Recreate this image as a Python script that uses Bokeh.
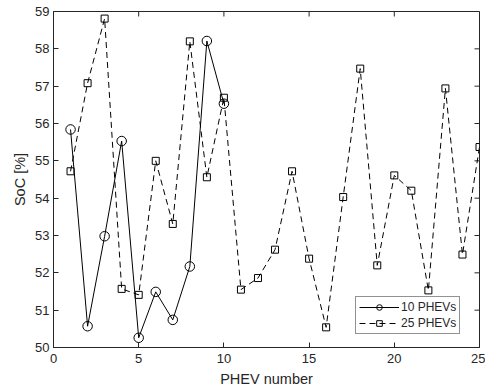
import math
from bokeh.plotting import figure
from bokeh.models import FixedTicker, Range1d, Legend, LegendItem
from bokeh.embed import file_html
from bokeh.resources import INLINE

x10 = list(range(1, 11))
soc10 = [55.84, 50.57, 52.98, 55.53, 50.26, 51.49, 50.74, 52.17, 58.21, 56.53]
x25 = list(range(1, 26))
soc25 = [54.72, 57.08, 58.81, 51.57, 51.41, 55.0, 53.31, 58.2, 54.56, 56.69,
         51.55, 51.86, 52.62, 54.72, 52.38, 50.54, 54.03, 57.47, 52.2, 54.61,
         54.2, 51.53, 56.94, 52.49, 55.37]
xticks = [0, 5, 10, 15, 20, 25]
yticks = [50, 51, 52, 53, 54, 55, 56, 57, 58, 59]

TXT = "#262626"
FONT = "Liberation Sans"

p = figure(width=485, height=390, output_backend="svg", toolbar_location=None,
           x_range=Range1d(0, 25), y_range=Range1d(50, 59),
           min_border_left=53, min_border_right=6, min_border_top=11, min_border_bottom=43)
p.grid.visible = False
p.outline_line_color = TXT
p.outline_line_width = 1
p.background_fill_color = "white"
p.border_fill_color = "white"

for ax in [p.xaxis[0], p.yaxis[0]]:
    ax.major_tick_in = 5
    ax.major_tick_out = 0
    ax.minor_tick_in = 0
    ax.minor_tick_out = 0
    ax.axis_line_color = TXT
    ax.major_tick_line_color = TXT
    ax.major_label_text_font = FONT
    ax.major_label_text_font_size = "13px"
    ax.major_label_text_color = TXT
    ax.axis_label_text_font = FONT
    ax.axis_label_text_font_size = "14.5px"
    ax.axis_label_text_font_style = "normal"
    ax.axis_label_text_color = TXT

p.xaxis[0].ticker = FixedTicker(ticks=xticks)
p.yaxis[0].ticker = FixedTicker(ticks=yticks)
p.xaxis[0].axis_label = "PHEV number"
p.yaxis[0].axis_label = "SoC [%]"
p.xaxis[0].major_label_standoff = 6
p.xaxis[0].axis_label_standoff = 5
p.yaxis[0].major_label_standoff = 4
p.yaxis[0].axis_label_standoff = 4

# inward ticks on the top and right edges of the box
p.ray(x=xticks, y=[59] * len(xticks), length=5, length_units="screen",
      angle=-math.pi / 2, line_color=TXT, line_width=1)
p.ray(x=[25] * len(yticks), y=yticks, length=5, length_units="screen",
      angle=math.pi, line_color=TXT, line_width=1)

l10 = p.line(x10, soc10, line_color="black", line_width=1)
s10 = p.scatter(x10, soc10, marker="circle", size=9.5, line_color="black",
                fill_alpha=0, line_width=1)
l25 = p.line(x25, soc25, line_color="black", line_width=1, line_dash="6 4")
s25 = p.scatter(x25, soc25, marker="square", size=7, line_color="black",
                fill_alpha=0, line_width=1)

legend = Legend(items=[LegendItem(label="10 PHEVs", renderers=[l10, s10]),
                       LegendItem(label="25 PHEVs", renderers=[l25, s25])],
                location=(302, 13))
legend.border_line_color = TXT
legend.border_line_width = 1
legend.label_text_font = FONT
legend.label_text_font_size = "12px"
legend.label_text_color = TXT
legend.glyph_width = 40
legend.glyph_height = 14
legend.label_height = 14
legend.label_standoff = 2
legend.padding = 3
legend.spacing = 2
legend.margin = 0
legend.background_fill_alpha = 1
p.add_layout(legend, "center")

open("out.html", "w").write(file_html(p, INLINE))
